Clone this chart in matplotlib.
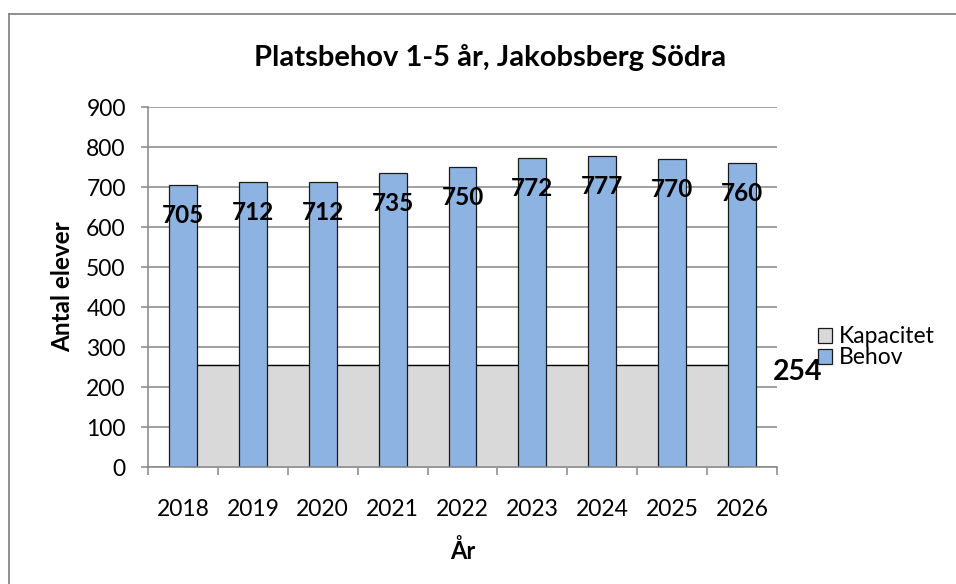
import matplotlib.pyplot as plt
import numpy as np
from matplotlib.patches import Patch
from matplotlib.lines import Line2D

plt.rcParams['font.family'] = ['Lato', 'DejaVu Sans']

years = ['2018', '2019', '2020', '2021', '2022', '2023', '2024', '2025', '2026']
behov = [705, 712, 712, 735, 750, 772, 777, 770, 760]
kapacitet = [254, 254, 254, 254, 254, 254, 254, 254, 254]

grid_col = '#868686'
bar_col = '#8db3e2'
area_col = '#d9d9d9'

fig = plt.figure(figsize=(9.56, 5.84), dpi=100)
ax = fig.add_axes([0.1548, 0.2003, 0.658, 0.6164])

x = np.arange(len(years))

# kapacitet as area behind the bars
ax.fill_between(x, 0, kapacitet, color=area_col, zorder=1)
ax.plot(x, kapacitet, color='black', lw=1.0, zorder=1.5)
ax.bar(x, behov, width=0.4, color=bar_col, edgecolor='#1a1a1a', linewidth=0.9, zorder=2)

for xi, v in zip(x, behov):
    ax.annotate(str(v), (xi, v), xytext=(0, -22), textcoords='offset points',
                ha='center', va='center', fontsize=17.5, fontweight='bold', zorder=3)

ax.annotate(str(kapacitet[-1]), (8.5, kapacitet[-1]), xytext=(-3, -5), textcoords='offset points',
            ha='left', va='center', fontsize=20.5, fontweight='bold', annotation_clip=False)

ax.set_xlim(-0.5, 8.5)
ax.set_ylim(0, 900)
ax.set_yticks(range(0, 901, 100))
ax.set_xticks(x)
ax.set_xticklabels(years)
ax.set_xticks(np.arange(-0.5, 9, 1), minor=True)
ax.tick_params(axis='x', which='major', length=0, labelsize=16.5, pad=23)
ax.tick_params(axis='x', which='minor', length=6, width=1.1, color=grid_col)
ax.tick_params(axis='y', length=5, width=1.1, color=grid_col, labelsize=16.5, pad=11)

ax.yaxis.grid(True, color=grid_col, lw=1.1, zorder=0)
ax.set_axisbelow(True)
for s in ['top', 'right']:
    ax.spines[s].set_visible(False)
for s in ['left', 'bottom']:
    ax.spines[s].set_color(grid_col)
    ax.spines[s].set_linewidth(1.1)

ax.set_xlabel('År', fontsize=17, fontweight='bold', labelpad=14)
ax.set_ylabel('Antal elever', fontsize=17.5, fontweight='bold', labelpad=9)
fig.suptitle('Platsbehov 1-5 år, Jakobsberg Södra', x=0.513, y=0.924,
             fontsize=21, fontweight='bold')

handles = [Patch(facecolor=area_col, edgecolor='#1a1a1a', lw=0.9),
           Patch(facecolor=bar_col, edgecolor='#1a1a1a', lw=0.9)]
fig.legend(handles, ['Kapacitet', 'Behov'], loc='center left',
           bbox_to_anchor=(0.856, 0.405), frameon=False, fontsize=16.5,
           handlelength=0.6, handleheight=0.6, handletextpad=0.3, labelspacing=0.0,
           borderaxespad=0, borderpad=0)

# outer chart border (only top and left visible in the crop)
fig.add_artist(Line2D([0.0094, 0.0094], [-0.01, 0.976], color=grid_col, lw=1.3))
fig.add_artist(Line2D([0.0094, 1.01], [0.976, 0.976], color=grid_col, lw=1.3))

fig.savefig('out.png', dpi=100)
